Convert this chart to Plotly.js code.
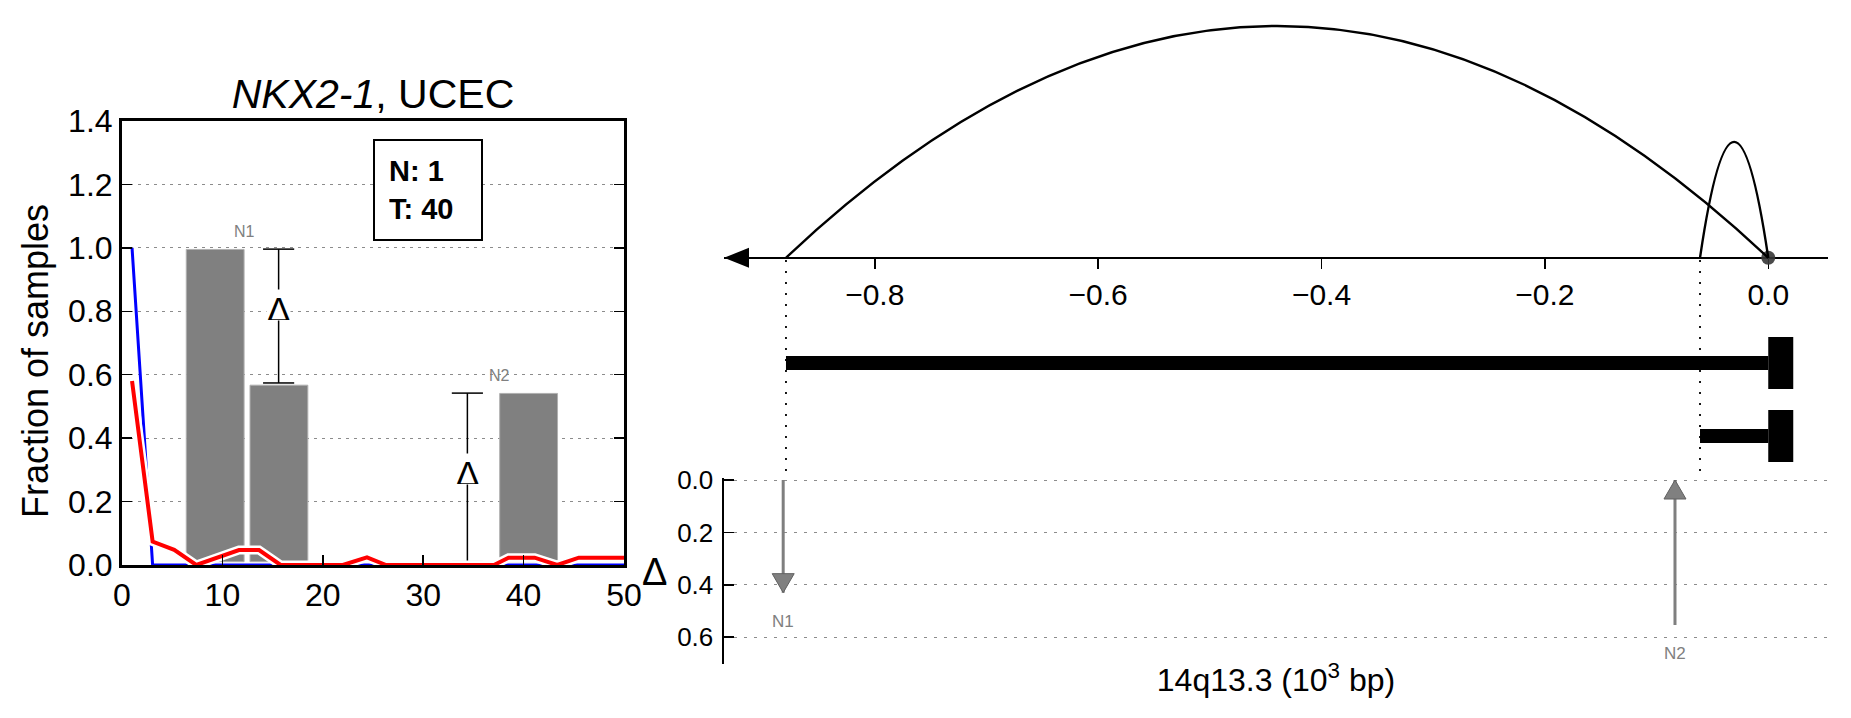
<!DOCTYPE html>
<html>
<head>
<meta charset="utf-8">
<script src="https://cdn.plot.ly/plotly-3.0.1.min.js"></script>
<style>html,body{margin:0;padding:0;background:#fff;}#chart{width:1851px;height:718px;}</style>
</head>
<body>
<div id="chart"></div>
<script>
// ---------- left panel data ----------
const barCenters = [9.28, 15.63, 40.5];
const barTops = [0.995, 0.567, 0.541];
const barLabels = ['N1', '', 'N2'];
const barLabelSide = [1, 0, -1];
const barBase = 0.0104;
const barWidth = 5.76;

const deltaX = [15.6, 34.4];
const deltaHi = [0.996, 0.542];
const deltaLo = [0.574, 0.0104];
const deltaMid = [0.795, 0.278];

const normalX = [1.0, 3.05, 50];
const normalY = [1.0, 0.0, 0.0];
const tumorX = [1.0, 3.05, 5.2, 7.4, 11.65, 13.65, 15.8, 22.0, 24.4, 26.3, 37.05, 38.5, 41.1, 43.35, 45.5, 50];
const tumorY = [0.58, 0.074, 0.048, 0.0, 0.047, 0.047, 0.0, 0.0, 0.024, 0.0, 0.0, 0.023, 0.023, 0.0, 0.023, 0.023];

const countN = 1;
const countT = 40;

// ---------- right panel data ----------
const breakStart = [-0.8795, -0.0611];
const breakEnd = [0.0, 0.0];
const arcHeight = [1.0, 0.5];
const geneRow = [1, 2];

const arrowX = [-0.882, -0.0835];
const arrowFrom = [0.0, 0.553];
const arrowTo = [0.43, 0.0];
const arrowLabels = ['N1', 'N2'];

const topTicks = [-0.8, -0.6, -0.4, -0.2, 0.0];
const deltaTicks = [0.0, 0.2, 0.4, 0.6];

// ---------- layout helpers ----------
const W = 1851, H = 718;
const px = v => v / W;
const py = v => 1 - v / H;
const FONT = 'Liberation Sans, Arial, Helvetica, sans-serif';

const traces = [];

// bars
traces.push({
  type: 'bar', x: barCenters, y: barTops.map(t => t - barBase), base: barBase,
  width: barWidth, xaxis: 'x', yaxis: 'y',
  marker: {color: '#808080', line: {color: '#b0b0b0', width: 1}},
  hoverinfo: 'skip', showlegend: false
});

// delta error bars (vertical + caps)
const capHalf = 1.55;
const ex = [], ey = [];
deltaX.forEach((x, i) => {
  ex.push(x, x, null, x - capHalf, x + capHalf, null, x - capHalf, x + capHalf, null);
  ey.push(deltaLo[i], deltaHi[i], null, deltaHi[i], deltaHi[i], null, deltaLo[i], deltaLo[i], null);
});
traces.push({type: 'scatter', mode: 'lines', x: ex, y: ey, xaxis: 'x', yaxis: 'y',
  line: {color: '#000', width: 1.5}, hoverinfo: 'skip', showlegend: false});

// normal (blue)
traces.push({type: 'scatter', mode: 'lines', x: normalX, y: normalY, xaxis: 'x', yaxis: 'y',
  line: {color: '#0000ff', width: 3}, hoverinfo: 'skip', showlegend: false});
// tumor (red with white halo)
traces.push({type: 'scatter', mode: 'lines', x: tumorX, y: tumorY, xaxis: 'x', yaxis: 'y',
  line: {color: '#ffffff', width: 9}, hoverinfo: 'skip', showlegend: false});
traces.push({type: 'scatter', mode: 'lines', x: tumorX, y: tumorY, xaxis: 'x', yaxis: 'y',
  line: {color: '#ff0000', width: 4}, hoverinfo: 'skip', showlegend: false});

// right: breakpoint dot
traces.push({type: 'scatter', mode: 'markers', x: [breakEnd[0]], y: [0], xaxis: 'x2', yaxis: 'y2',
  marker: {color: 'rgba(55,55,55,0.9)', size: 14}, cliponaxis: false, hoverinfo: 'skip', showlegend: false});
// placeholder so the gene-track subplot exists
traces.push({type: 'scatter', mode: 'markers', x: [], y: [], xaxis: 'x2', yaxis: 'y3', hoverinfo: 'skip', showlegend: false});

// lower panel: arrow shafts
const sx = [], sy = [];
arrowX.forEach((x, i) => { sx.push(x, x, null); sy.push(arrowFrom[i], arrowTo[i], null); });
traces.push({type: 'scatter', mode: 'lines', x: sx, y: sy, xaxis: 'x3', yaxis: 'y4',
  line: {color: '#7f7f7f', width: 3}, hoverinfo: 'skip', showlegend: false, cliponaxis: false});

// ---------- shapes ----------
const shapes = [];
// arcs (quadratic Bezier: control at 2h gives apex h)
breakStart.forEach((s, i) => {
  const e = breakEnd[i], h = arcHeight[i];
  shapes.push({type: 'path', xref: 'x2', yref: 'y2',
    path: `M ${s},0 Q ${(s + e) / 2},${2 * h} ${e},0`,
    line: {color: '#000', width: 2.4}, layer: 'above'});
});
// axis arrow head at left end
shapes.push({type: 'path', xref: 'x2', yref: 'y2', xsizemode: 'pixel', ysizemode: 'pixel',
  xanchor: -0.935, yanchor: 0, path: 'M0,0 L25,10 L25,-10 Z',
  fillcolor: '#000', line: {width: 0}});
// dotted guide lines
breakStart.forEach(s => {
  shapes.push({type: 'line', xref: 'x2', yref: 'paper', x0: s, x1: s, y0: py(471), y1: py(258),
    line: {color: '#000', width: 1.8, dash: '2px,9px'}});
});
// gene / segment bars with T end
breakStart.forEach((s, i) => {
  shapes.push({type: 'rect', xref: 'x2', yref: 'y3', x0: s, x1: breakEnd[i],
    ysizemode: 'pixel', yanchor: geneRow[i], y0: -7, y1: 7,
    fillcolor: '#000', line: {width: 0}});
  shapes.push({type: 'rect', xref: 'x2', yref: 'y3', xsizemode: 'pixel', xanchor: breakEnd[i], x0: 0, x1: 25,
    ysizemode: 'pixel', yanchor: geneRow[i], y0: -26, y1: 26,
    fillcolor: '#000', line: {width: 0}});
});
// arrow heads (tip at arrowTo, pointing along the arrow)
arrowX.forEach((x, i) => {
  const down = arrowTo[i] > arrowFrom[i];   // y axis is reversed: larger value is lower
  const d = down ? 1 : -1;
  shapes.push({type: 'path', xref: 'x3', yref: 'y4', xsizemode: 'pixel', ysizemode: 'pixel',
    xanchor: x, yanchor: arrowTo[i],
    path: `M0,0 L-11,${19 * d} L11,${19 * d} Z`,
    fillcolor: '#808080', line: {color: '#606060', width: 1}});
});

// ---------- annotations ----------
const annotations = [];
deltaX.forEach((x, i) => {
  annotations.push({xref: 'x', yref: 'y', x: x, y: deltaMid[i], text: 'Δ', showarrow: false,
    font: {size: 35, color: '#000', family: FONT}, bgcolor: '#ffffff', borderpad: 0,
    height: 30, valign: 'top', xanchor: 'center', yanchor: 'middle', yshift: 8});
});
barLabels.forEach((lab, i) => {
  if (!lab) return;
  annotations.push({xref: 'x', yref: 'y', x: barCenters[i] + barLabelSide[i] * barWidth / 2, y: barTops[i],
    text: lab, showarrow: false, font: {size: 16, color: '#808080', family: FONT},
    xanchor: 'center', yanchor: 'bottom', yshift: 7});
});
annotations.push({xref: 'paper', yref: 'paper', x: px(427.5), y: py(189.5),
  text: '<b>N: ' + countN + '<br>T: ' + countT + '</b>', showarrow: false, align: 'left',
  font: {size: 29, color: '#000', family: FONT}, bordercolor: '#000', borderwidth: 2,
  bgcolor: '#fff', borderpad: 14, width: 78, height: 70, xanchor: 'center', yanchor: 'middle'});
// left y-axis title (placed as in the reference, slightly below the axis centre)
annotations.push({xref: 'paper', yref: 'paper', x: px(36), y: py(361), text: 'Fraction of samples',
  textangle: -90, showarrow: false, font: {size: 36, color: '#000', family: FONT},
  xanchor: 'center', yanchor: 'middle'});

arrowX.forEach((x, i) => {
  annotations.push({xref: 'x3', yref: 'y4', x: x, y: Math.max(arrowFrom[i], arrowTo[i]),
    text: arrowLabels[i], showarrow: false, font: {size: 17, color: '#808080', family: FONT},
    xanchor: 'center', yanchor: 'middle', yshift: -29});
});
annotations.push({xref: 'paper', yref: 'paper', x: px(654), y: py(572), text: 'Δ', showarrow: false,
  font: {size: 38, color: '#000', family: FONT}, xanchor: 'center', yanchor: 'middle'});

// ---------- layout ----------
const layout = {
  width: W, height: H, margin: {l: 0, r: 0, t: 0, b: 0},
  paper_bgcolor: '#fff', plot_bgcolor: 'rgba(0,0,0,0)',
  font: {family: FONT, color: '#000'},
  showlegend: false, bargap: 0,
  title: {text: '<i>NKX2-1</i>, UCEC', font: {size: 41, family: FONT, color: '#000'},
    xref: 'paper', yref: 'paper', x: px(373), y: py(94), xanchor: 'center', yanchor: 'middle'},
  xaxis: {domain: [px(122), px(624)], range: [0, 50], anchor: 'y', tick0: 0, dtick: 10,
    ticks: 'inside', ticklen: 10, tickwidth: 1.5, tickcolor: '#000',
    showline: true, linewidth: 3, linecolor: '#000', mirror: true,
    showgrid: false, zeroline: false, tickfont: {size: 32}},
  yaxis: {domain: [py(565), py(121)], range: [0, 1.4], anchor: 'x', tick0: 0, dtick: 0.2, tickformat: '.1f',
    ticks: 'inside', ticklen: 10, tickwidth: 1.5, tickcolor: '#000',
    showline: true, linewidth: 3, linecolor: '#000', mirror: 'ticks',
    showgrid: true, gridcolor: '#8c8c8c', gridwidth: 1, griddash: '3px,5px', zeroline: false,
    tickfont: {size: 32}},
  xaxis2: {domain: [px(724), px(1828)], range: [-0.935, 0.0535], anchor: 'free', position: py(257.7),
    tickvals: topTicks, tickformat: '.1f', ticks: 'outside', ticklen: 10, tickwidth: 1.5, tickcolor: '#000',
    showline: true, linewidth: 2.5, linecolor: '#000', showgrid: false, zeroline: false,
    tickfont: {size: 30}, layer: 'below traces'},
  yaxis2: {domain: [py(281), py(19)], range: [-0.1, 1.03], anchor: 'x2', visible: false},
  yaxis3: {domain: [py(478), py(258)], range: [2.575, -0.438], anchor: 'x2', visible: false},
  xaxis3: {domain: [px(724), px(1828)], range: [-0.935, 0.0535], matches: 'x2', anchor: 'y4',
    showticklabels: false, ticks: '', showline: false, showgrid: false, zeroline: false,
    title: {text: '14q13.3 (10<sup>3</sup> bp)', font: {size: 32}, standoff: 4}},
  yaxis4: {domain: [py(664.3), py(478.3)], range: [0.7034, -0.0065], anchor: 'x3',
    tickvals: deltaTicks, tickformat: '.1f', ticks: 'inside', ticklen: 10, tickwidth: 1.5, tickcolor: '#000',
    showline: true, linewidth: 2.5, linecolor: '#000', ticklabelstandoff: 3,
    showgrid: true, gridcolor: '#8c8c8c', gridwidth: 1, griddash: '3px,7px', zeroline: false,
    tickfont: {size: 26}},
  shapes: shapes,
  annotations: annotations
};

Plotly.newPlot('chart', traces, layout, {displayModeBar: false, staticPlot: true});
</script>
</body>
</html>
